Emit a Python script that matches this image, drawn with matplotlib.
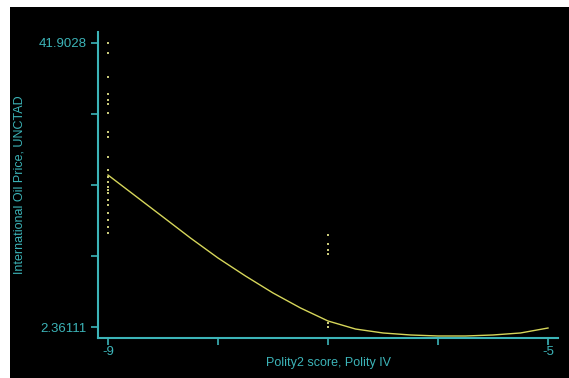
import matplotlib
matplotlib.use("Agg")
import matplotlib.pyplot as plt
from matplotlib.patches import Rectangle

# Scatter data (Polity2 score vs oil price)
x_m9 = [-9] * 22
y_m9 = [41.90, 40.51, 37.17, 34.80, 33.97, 33.41, 32.16, 29.51, 28.82, 26.03,
        24.22, 23.25, 22.55, 21.85, 21.44, 21.02, 20.04, 19.35, 18.23, 17.26,
        16.28, 15.45]
x_m7 = [-7] * 6
y_m7 = [15.17, 13.92, 13.08, 12.53, 2.92, 2.36111]

# Fitted curve
fit_x = [-9, -8.75, -8.5, -8.25, -8, -7.75, -7.5, -7.25, -7, -6.75, -6.5,
         -6.25, -6, -5.75, -5.5, -5.25, -5]
fit_y = [23.52, 20.60, 17.68, 14.75, 11.97, 9.46, 7.10, 5.01, 3.20, 2.08,
         1.53, 1.25, 1.11, 1.11, 1.25, 1.53, 2.22]

ytick_vals = [2.36111, 12.2465, 22.1320, 32.0174, 41.9028]
ytick_labels = ["2.36111", "", "", "", "41.9028"]
xtick_vals = [-9, -8, -7, -6, -5]
xtick_labels = ["-9", "", "", "", "-5"]

teal = "#3cb4b8"
yellow = "#d6d65a"
dot = "#c8c878"

plt.rcParams["font.family"] = ["Liberation Sans", "DejaVu Sans"]

W, H = 569, 378
fig = plt.figure(figsize=(W / 100, H / 100), dpi=100, facecolor="white")
fig.patches.append(Rectangle((10 / W, 0), 1, (H - 7) / H, transform=fig.transFigure,
                             facecolor="black", edgecolor="none", zorder=-10))

ax = fig.add_axes([98 / W, (H - 338) / H, 460 / W, 306 / H])
ax.set_zorder(5)
ax.set_facecolor("none")

ax.scatter(x_m9 + x_m7, y_m9 + y_m7, s=1.6, marker="s", color=dot, linewidths=0)
ax.plot(fit_x, fit_y, color=yellow, lw=1.0)

ax.set_xlim(-9.0909, -4.9091)
ax.set_ylim(0.830, 43.434)

for s in ["top", "right"]:
    ax.spines[s].set_visible(False)
for s in ["left", "bottom"]:
    ax.spines[s].set_color(teal)
    ax.spines[s].set_linewidth(1.5)

ax.set_yticks(ytick_vals)
ax.set_yticklabels(ytick_labels)
ax.set_xticks(xtick_vals)
ax.set_xticklabels(xtick_labels)
ax.tick_params(axis="both", colors=teal, labelcolor=teal, length=5, width=1.2,
               labelsize=9.5, direction="out")
ax.tick_params(axis="x", pad=1)
ax.tick_params(axis="y", pad=3.5)

ax.set_ylabel("International Oil Price, UNCTAD", color=teal, fontsize=9, va="center")
ax.yaxis.set_label_coords(-0.1696, 0.5)
ax.set_xlabel("Polity2 score, Polity IV", color=teal, fontsize=9, va="center")
ax.xaxis.set_label_coords(0.5, -0.0817)

fig.savefig("out.png", dpi=100, facecolor="white")
